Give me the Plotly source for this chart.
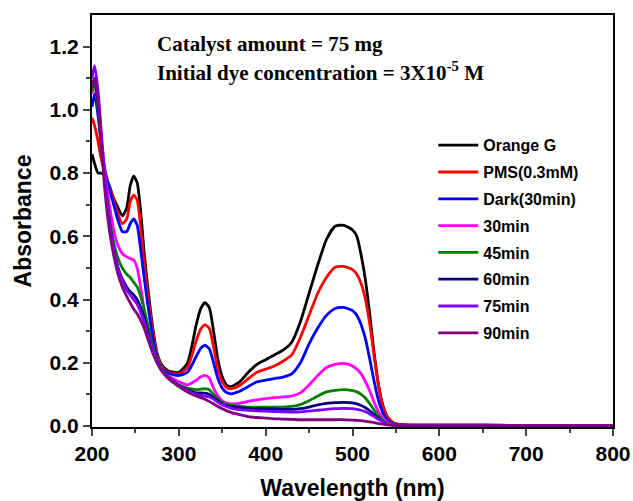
import plotly.graph_objects as go

wavelength = [200, 203, 207, 211, 215, 220, 225, 230, 235, 240, 244, 248, 252, 256, 260, 265, 270, 275, 280, 285, 290,
              300, 310, 320, 325, 330, 335, 340, 345, 350, 355, 360, 370, 380, 390, 400, 410, 420, 430, 440, 450, 460,
              470, 480, 490, 500, 505, 510, 515, 520, 525, 530, 535, 540, 545, 550, 560, 580, 600, 700, 800]

orange_g = [0.86, 0.83, 0.80, 0.80, 0.79, 0.76, 0.72, 0.69, 0.665, 0.69, 0.76, 0.79, 0.77, 0.68, 0.55, 0.42, 0.31, 0.23, 0.195, 0.18, 0.172,
            0.17, 0.20, 0.32, 0.37, 0.39, 0.375, 0.30, 0.21, 0.155, 0.13, 0.125, 0.14, 0.17, 0.195, 0.21, 0.225, 0.24, 0.265, 0.33, 0.42, 0.51,
            0.59, 0.632, 0.635, 0.62, 0.60, 0.54, 0.46, 0.35, 0.23, 0.13, 0.065, 0.03, 0.014, 0.007, 0.004, 0.003, 0.003, 0.002, 0.002]
pms = [0.975, 0.95, 0.90, 0.84, 0.80, 0.755, 0.715, 0.67, 0.64, 0.655, 0.71, 0.73, 0.715, 0.63, 0.52, 0.40, 0.30, 0.225, 0.19, 0.175, 0.168,
       0.165, 0.185, 0.27, 0.305, 0.32, 0.31, 0.25, 0.18, 0.14, 0.122, 0.118, 0.128, 0.15, 0.17, 0.18, 0.19, 0.205, 0.225, 0.28, 0.35, 0.42,
       0.47, 0.502, 0.505, 0.495, 0.48, 0.45, 0.40, 0.32, 0.22, 0.125, 0.062, 0.03, 0.014, 0.007, 0.004, 0.003, 0.003, 0.002, 0.002]
dark = [1.01, 1.05, 0.98, 0.88, 0.81, 0.75, 0.70, 0.65, 0.615, 0.615, 0.64, 0.655, 0.635, 0.56, 0.47, 0.37, 0.28, 0.215, 0.185, 0.172, 0.165,
        0.16, 0.17, 0.22, 0.245, 0.255, 0.245, 0.20, 0.15, 0.12, 0.106, 0.102, 0.11, 0.125, 0.14, 0.145, 0.15, 0.155, 0.165, 0.20, 0.26, 0.31,
        0.35, 0.372, 0.375, 0.365, 0.35, 0.32, 0.275, 0.21, 0.14, 0.08, 0.042, 0.02, 0.01, 0.005, 0.003, 0.003, 0.003, 0.002, 0.002]
min30 = [1.05, 1.09, 1.02, 0.90, 0.80, 0.70, 0.62, 0.57, 0.545, 0.535, 0.53, 0.525, 0.50, 0.44, 0.37, 0.30, 0.24, 0.20, 0.18, 0.165, 0.155,
         0.14, 0.13, 0.145, 0.155, 0.16, 0.152, 0.12, 0.095, 0.08, 0.073, 0.07, 0.072, 0.078, 0.083, 0.087, 0.09, 0.092, 0.095, 0.105, 0.13, 0.16,
         0.185, 0.195, 0.198, 0.19, 0.18, 0.165, 0.14, 0.11, 0.075, 0.045, 0.025, 0.013, 0.007, 0.004, 0.003, 0.002, 0.002, 0.002, 0.002]
min45 = [1.06, 1.08, 1.00, 0.88, 0.77, 0.66, 0.58, 0.53, 0.50, 0.48, 0.47, 0.455, 0.44, 0.41, 0.37, 0.31, 0.25, 0.21, 0.185, 0.165, 0.15,
         0.13, 0.12, 0.115, 0.117, 0.118, 0.115, 0.10, 0.085, 0.075, 0.068, 0.065, 0.062, 0.06, 0.06, 0.06, 0.06, 0.06, 0.062, 0.068, 0.08, 0.095,
         0.108, 0.113, 0.115, 0.112, 0.108, 0.10, 0.088, 0.07, 0.05, 0.032, 0.018, 0.01, 0.005, 0.003, 0.002, 0.002, 0.002, 0.002, 0.002]
min60 = [1.08, 1.10, 1.02, 0.89, 0.77, 0.65, 0.56, 0.50, 0.465, 0.44, 0.425, 0.415, 0.40, 0.375, 0.345, 0.29, 0.24, 0.205, 0.18, 0.162, 0.148,
         0.128, 0.115, 0.105, 0.105, 0.104, 0.10, 0.09, 0.08, 0.07, 0.065, 0.062, 0.058, 0.056, 0.055, 0.055, 0.054, 0.053, 0.053, 0.055, 0.06, 0.067,
         0.072, 0.074, 0.075, 0.073, 0.07, 0.065, 0.058, 0.048, 0.036, 0.024, 0.014, 0.008, 0.004, 0.003, 0.002, 0.002, 0.002, 0.002, 0.002]
min75 = [1.10, 1.14, 1.06, 0.92, 0.78, 0.65, 0.56, 0.50, 0.46, 0.43, 0.415, 0.40, 0.385, 0.36, 0.33, 0.285, 0.24, 0.205, 0.18, 0.162, 0.148,
         0.128, 0.112, 0.10, 0.097, 0.095, 0.092, 0.085, 0.075, 0.067, 0.061, 0.057, 0.052, 0.05, 0.048, 0.047, 0.046, 0.045, 0.044, 0.045, 0.047, 0.05,
         0.053, 0.055, 0.056, 0.055, 0.053, 0.05, 0.045, 0.038, 0.03, 0.021, 0.013, 0.008, 0.004, 0.003, 0.002, 0.002, 0.002, 0.002, 0.002]
min90 = [1.07, 1.10, 1.03, 0.88, 0.74, 0.62, 0.54, 0.48, 0.44, 0.41, 0.39, 0.37, 0.355, 0.335, 0.31, 0.27, 0.23, 0.20, 0.175, 0.158, 0.145,
         0.125, 0.108, 0.095, 0.09, 0.085, 0.078, 0.07, 0.062, 0.055, 0.048, 0.043, 0.036, 0.03, 0.027, 0.025, 0.023, 0.022, 0.021, 0.02, 0.02, 0.02,
         0.02, 0.02, 0.02, 0.019, 0.018, 0.017, 0.015, 0.013, 0.011, 0.008, 0.006, 0.004, 0.003, 0.002, 0.002, 0.002, 0.002, 0.002, 0.002]

series_names = ["Orange G", "PMS(0.3mM)", "Dark(30min)", "30min", "45min", "60min", "75min", "90min"]
series_values = [orange_g, pms, dark, min30, min45, min60, min75, min90]
series_colors = ["#000000", "#ff0000", "#0000ff", "#ff00ff", "#008000", "#000080", "#8000ff", "#800080"]

x_ticks = [200, 300, 400, 500, 600, 700, 800]
x_minor = [250, 350, 450, 550, 650, 750]
y_ticks = [0.0, 0.2, 0.4, 0.6, 0.8, 1.0, 1.2]
y_minor = [0.1, 0.3, 0.5, 0.7, 0.9, 1.1]

fig = go.Figure()
for name, vals, col in zip(series_names, series_values, series_colors):
    fig.add_trace(go.Scatter(x=wavelength, y=vals, mode="lines", name=name, legendgroup=name,
                             line=dict(color=col, width=2.8, shape="spline", smoothing=0.6)))

tick_font = dict(family="Liberation Sans", size=21, color="black", weight="bold")
title_font = dict(family="Liberation Sans", size=23, color="black", weight="bold")

fig.update_layout(
    width=633, height=501,
    margin=dict(l=92, r=20, t=15, b=74, autoexpand=False),
    plot_bgcolor="white", paper_bgcolor="white",
    showlegend=True,
    legend=dict(x=0.655, y=0.725, xanchor="left", yanchor="top", bgcolor="rgba(0,0,0,0)",
                font=dict(family="Liberation Sans", size=16, color="black", weight="bold"),
                tracegroupgap=3, itemwidth=40),
    xaxis=dict(range=[200, 800], tickvals=x_ticks, ticks="outside", ticklen=7, tickwidth=2,
               minor=dict(tickvals=x_minor, ticks="outside", ticklen=4, tickwidth=2),
               showline=True, linewidth=2, linecolor="black", mirror=True, showgrid=False, zeroline=False,
               tickfont=tick_font, automargin=False,
               title=dict(text="Wavelength (nm)", font=title_font, standoff=16)),
    yaxis=dict(range=[-0.003, 1.30], tickvals=y_ticks, tickformat=".1f", ticks="outside", ticklen=7, tickwidth=2,
               minor=dict(tickvals=y_minor, ticks="outside", ticklen=4, tickwidth=2),
               showline=True, linewidth=2, linecolor="black", mirror=True, showgrid=False, zeroline=False,
               tickfont=tick_font, automargin=False,
               title=dict(text="Absorbance", font=title_font, standoff=12)),
)

ann_font = dict(family="Liberation Serif", size=21, color="black", weight="bold")
fig.add_annotation(x=(155 - 92) / 521, y=(427 - 44) / 412, xref="paper", yref="paper", xanchor="left", yanchor="middle",
                   text="Catalyst amount = 75 mg", showarrow=False, font=ann_font)
fig.add_annotation(x=(155 - 92) / 521, y=(427 - 71) / 412, xref="paper", yref="paper", xanchor="left", yanchor="middle",
                   text="Initial dye concentration = 3X10<sup>-5</sup> M", showarrow=False, font=ann_font)

fig.write_html("out.html")
